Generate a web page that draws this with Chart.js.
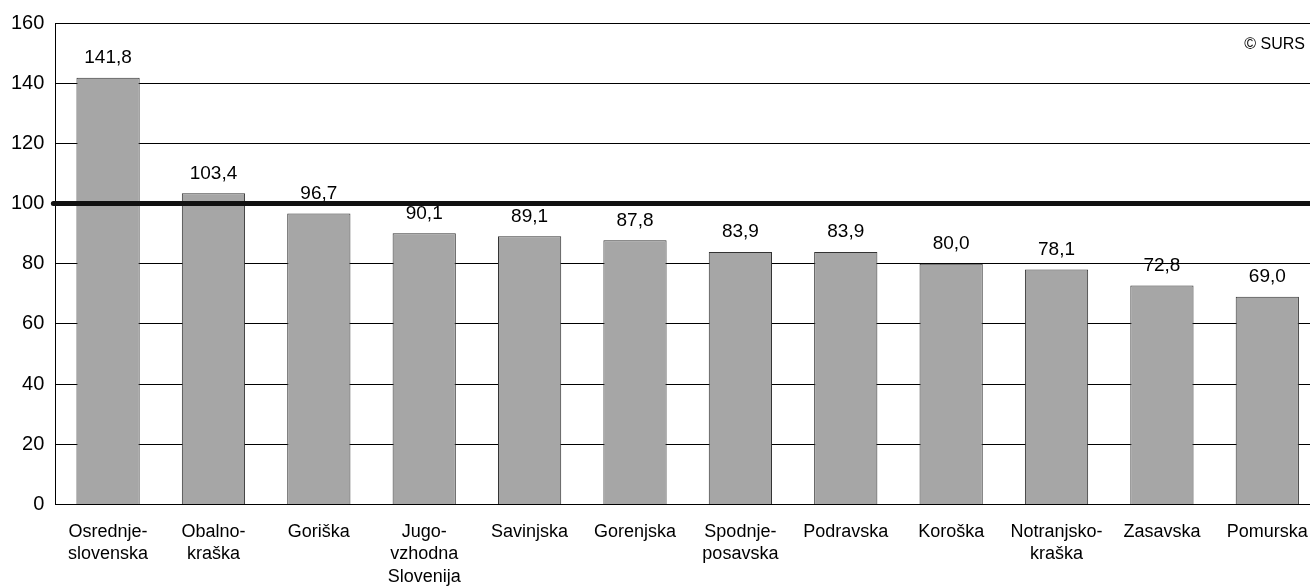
<!DOCTYPE html>
<html lang="sl">
<head>
    <meta charset="UTF-8">
    <title>Regije - indeks</title>
    <script src="https://cdn.jsdelivr.net/npm/chart.js"></script>
    <style>
        body { margin: 0; background: #fff; }
        #wrap { width: 1310px; height: 586px; overflow: hidden; }
    </style>
</head>
<body>
    <div id="wrap">
        <canvas id="chart" width="1320" height="586"></canvas>
    </div>
    <script>
        // regions (labels split into lines as on the original)
        const regions = [
            ['Osrednje-', 'slovenska'],
            ['Obalno-', 'kraška'],
            'Goriška',
            ['Jugo-', 'vzhodna', 'Slovenija'],
            'Savinjska',
            'Gorenjska',
            ['Spodnje-', 'posavska'],
            'Podravska',
            'Koroška',
            ['Notranjsko-', 'kraška'],
            'Zasavska',
            'Pomurska'
        ];
        const values = [141.8, 103.4, 96.7, 90.1, 89.1, 87.8, 83.9, 83.9, 80.0, 78.1, 72.8, 69.0];
        const yMin = 0, yMax = 160, yStep = 20;
        const refLine = 100;
        const sourceNote = '© SURS';

        const FONT = "'Liberation Sans', Arial, sans-serif";

        // value labels above the bars, thick reference line, source note
        const extras = {
            id: 'extras',
            afterDatasetsDraw(chart) {
                const ctx = chart.ctx;
                const area = chart.chartArea;
                const y = chart.scales.y.getPixelForValue(refLine);
                ctx.save();
                ctx.strokeStyle = '#111';
                ctx.lineWidth = 5;
                ctx.lineCap = 'round';
                ctx.beginPath();
                ctx.moveTo(area.left - 2, y);
                ctx.lineTo(area.right, y);
                ctx.stroke();

                ctx.fillStyle = '#000';
                ctx.font = '19px ' + FONT;
                ctx.textAlign = 'center';
                ctx.textBaseline = 'middle';
                chart.getDatasetMeta(0).data.forEach((bar, i) => {
                    ctx.fillText(values[i].toFixed(1).replace('.', ','), bar.x, bar.y - 20);
                });

                ctx.font = '16px ' + FONT;
                ctx.textAlign = 'right';
                ctx.fillText(sourceNote, 1305, area.top + 22);
                ctx.restore();
            }
        };

        new Chart(document.getElementById('chart'), {
            type: 'bar',
            data: {
                labels: regions,
                datasets: [{
                    data: values,
                    backgroundColor: '#a6a6a6',
                    borderColor: '#333',
                    borderWidth: 1,
                    borderSkipped: 'bottom',
                    categoryPercentage: 1.0,
                    barPercentage: 0.6
                }]
            },
            options: {
                responsive: false,
                animation: false,
                layout: { padding: { left: 0, top: 2, right: 0, bottom: -10 } },
                plugins: {
                    legend: { display: false },
                    tooltip: { enabled: false }
                },
                scales: {
                    x: {
                        grid: { display: false },
                        border: { display: true, color: '#000', width: 1 },
                        ticks: {
                            color: '#000',
                            font: { family: FONT, size: 18, lineHeight: 1.25 },
                            padding: 8,
                            maxRotation: 0,
                            autoSkip: false
                        }
                    },
                    y: {
                        min: yMin,
                        max: yMax,
                        grid: {
                            color: '#000',
                            lineWidth: 1,
                            drawTicks: false
                        },
                        border: { display: true, color: '#000', width: 1 },
                        ticks: {
                            stepSize: yStep,
                            color: '#000',
                            font: { family: FONT, size: 20 },
                            padding: 11
                        }
                    }
                }
            },
            plugins: [extras]
        });
    </script>
</body>
</html>
